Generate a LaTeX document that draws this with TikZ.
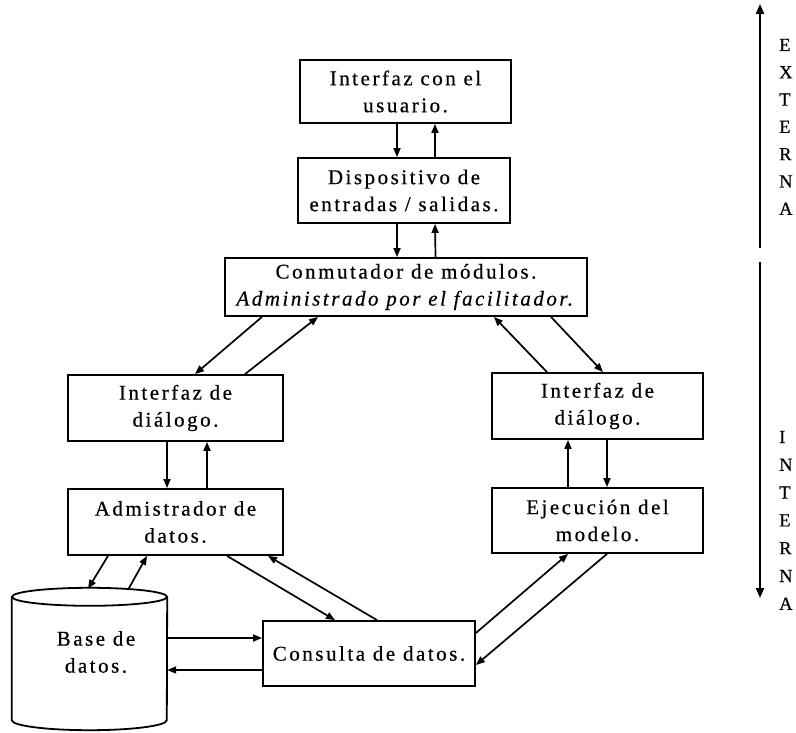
\documentclass[tikz,border=0pt]{standalone}
\usepackage{fontspec}
\setmainfont{Liberation Serif}[LetterSpace=12,FakeBold=0.5]
\usetikzlibrary{arrows.meta}

\begin{document}
\begin{tikzpicture}[x=1pt,y=-1pt,
  box/.style={draw,line width=1.8pt,align=center,inner sep=0pt,
    font=\fontsize{21}{27}\selectfont},
  link/.style={line width=1.7pt,-{Triangle[length=9pt,width=7pt]}},
  axisline/.style={line width=2pt},
  axistip/.style={-{Triangle[length=10pt,width=8pt]}},
  sidelbl/.style={anchor=base west,inner sep=0pt,font=\fontsize{18.5}{20}\selectfont}]
\useasboundingbox (0,0) rectangle (796,733);

% main blocks
\node[box,minimum width=211pt,minimum height=63pt] (u) at (405.5,91.5) {Interfaz con el\\usuario.};
\node[box,minimum width=212pt,minimum height=65pt] (d) at (404,190.5) {Dispositivo de\\entradas / salidas.};
\node[box,minimum width=362pt,minimum height=58pt] (c) at (406,287) {Conmutador de módulos.\\\textit{Administrado por el facilitador.}};
\node[box,minimum width=215pt,minimum height=66pt] (il) at (175.5,408) {Interfaz de\\diálogo.};
\node[box,minimum width=215pt,minimum height=66pt] (a) at (175.5,522) {Admistrador de\\datos.};
\node[box,minimum width=211pt,minimum height=66pt] (ir) at (597.5,406) {Interfaz de\\diálogo.};
\node[box,minimum width=211pt,minimum height=65pt] (e) at (597.5,520.5) {Ejecución del\\modelo.};
\node[box,minimum width=212pt,minimum height=65pt] (q) at (369,653.5) {Consulta de datos.};

% database cylinder
\node[inner sep=0pt,minimum width=155pt,minimum height=142pt] (b) at (89.5,659) {};
\draw[line width=1.8pt] ([yshift=-9pt]b.north) ellipse[x radius=77.5pt,y radius=9pt];
\draw[line width=1.8pt] ([yshift=-9pt]b.north west) -- ([yshift=10pt]b.south west)
  arc[start angle=180,end angle=360,x radius=77.5pt,y radius=10pt]
  -- ([yshift=-9pt]b.north east);
\node[align=center,inner sep=0pt,font=\fontsize{21}{27}\selectfont] (bt) at (96,652) {Base de\\datos.};

% vertical links of the upper chain
\draw[link] ([xshift=-8.5pt]u.south) -- ([xshift=-7pt]d.north);
\draw[link] ([xshift=31pt]d.north) -- ([xshift=29.5pt]u.south);
\draw[link] ([xshift=-7pt]d.south) -- ([xshift=-9pt]c.north);
\draw[link] ([xshift=29.5pt]c.north) -- ([xshift=31pt]d.south);

% switch to dialog interfaces
\draw[link] ([xshift=-144pt]c.south) -- ([xshift=19.5pt]il.north);
\draw[link] ([xshift=69.5pt]il.north) -- ([xshift=-88pt]c.south);
\draw[link] ([xshift=-50.5pt]ir.north) -- ([xshift=88pt]c.south);
\draw[link] ([xshift=145pt]c.south) -- ([xshift=5.5pt]ir.north);

% dialog interfaces to their modules
\draw[link] ([xshift=-8.5pt]il.south) -- ([xshift=-8.5pt]a.north);
\draw[link] ([xshift=31.5pt]a.north) -- ([xshift=31.5pt]il.south);
\draw[link] ([xshift=-29.5pt]e.north) -- ([xshift=-29.5pt]ir.south);
\draw[link] ([xshift=9.5pt]ir.south) -- ([xshift=9.5pt]e.north);

% data manager, database and query
\draw[link] ([xshift=-67.5pt]a.south) -- ([xshift=-1.5pt,yshift=-1pt]b.north);
\draw[link] ([xshift=38.5pt,yshift=-2pt]b.north) -- ([xshift=-28.5pt]a.south);
\draw[link] ([xshift=51.5pt]a.south) -- ([xshift=-34pt]q.north);
\draw[link] ([xshift=8pt]q.north) -- ([xshift=92.5pt]a.south);
\draw[link] ([yshift=21pt]b.east) -- ([yshift=15.5pt]q.west);
\draw[link] ([yshift=-16.5pt]q.west) -- ([yshift=-11pt]b.east);

% query and model execution
\draw[link] ([yshift=20.5pt]q.east) -- ([xshift=-29.5pt]e.south);
\draw[link] ([xshift=9.5pt]e.south) -- ([yshift=-11.5pt]q.east);

% external / internal axis
\coordinate (ax1) at (760,4);
\coordinate (ax2) at (760,248);
\coordinate (ax3) at (760,262);
\coordinate (ax4) at (760,598);
\draw[axisline] (ax2) -- (ax1) [axistip];
\draw[axisline,axistip] (ax3) -- (ax4);

\foreach \l [count=\i] in {E,X,T,E,R,N,A}
  \node[sidelbl] (ext\i) at (779,{51+27.3*(\i-1)}) {\l};
\foreach \l [count=\i] in {I,N,T,E,R,N,A}
  \node[sidelbl] (int\i) at (779,{443+27.8*(\i-1)}) {\l};
\end{tikzpicture}
\end{document}
